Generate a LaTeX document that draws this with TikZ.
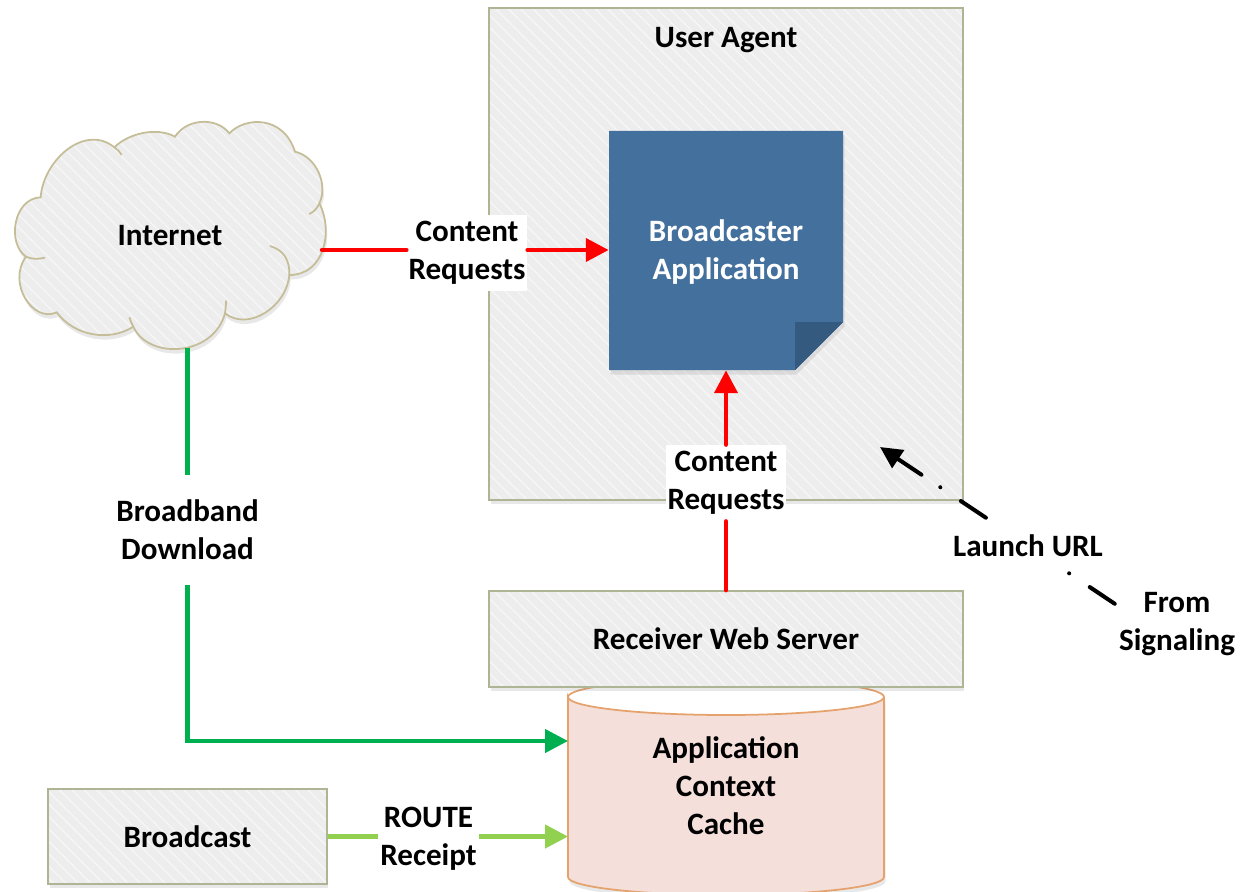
\documentclass[tikz,border=0pt]{standalone}
\usepackage{fontspec}
\setmainfont{Carlito}
\usepackage{tikz}
\usetikzlibrary{arrows.meta}
\usetikzlibrary{patterns.meta}
\usetikzlibrary{positioning}
\usetikzlibrary{shadows}
\definecolor{boxgray}{HTML}{EDEDED}
\definecolor{boxline}{HTML}{AEB594}
\definecolor{cloudline}{HTML}{C4BD97}
\definecolor{appblue}{HTML}{44709D}
\definecolor{appfold}{HTML}{355A80}
\definecolor{cachefill}{HTML}{F4DFDA}
\definecolor{cacheline}{HTML}{E6A26C}
\definecolor{bbgreen}{HTML}{00B050}
\definecolor{routegreen}{HTML}{92D050}
\begin{document}
\begin{tikzpicture}
      [x=0.02cm,y=-0.02cm,
      font=\fontsize{17.7}{21.6}\selectfont\bfseries,
      softshadow/.style={drop shadow={shadow xshift=0.03cm,shadow yshift=-0.09cm,opacity=0.18}},
      hatched/.style={softshadow,preaction={fill=boxgray},pattern={Lines[angle=-45,distance=5pt,line width=0.7pt]},pattern color=white!55!boxgray},
      plainbox/.style={rectangle,draw=boxline,line width=0.9pt,hatched,align=center},
      msgbox/.style={rectangle,fill=white,align=center,inner xsep=1pt,inner ysep=0pt,minimum height=1.52cm},
      textbox/.style={rectangle,align=center,inner sep=0pt},
      cloudedge/.style={draw=cloudline,line width=1pt},
      cacheedge/.style={draw=cacheline,line width=1pt},
      redline/.style={draw=red,line width=2.5pt,line cap=round},
      bbline/.style={draw=bbgreen,line width=2.5pt},
      routeline/.style={draw=routegreen,line width=2.5pt},
      tip/.style={-{Triangle[length=13pt,width=13pt]}},
      launchline/.style={draw=black,line width=2.3pt,line cap=round,dash pattern=on 17.1pt off 14.1pt on 0pt off 12.9pt,-{Triangle[length=12.5pt,width=12pt]}}]
      \useasboundingbox (0,0) rectangle (1244,892);
      % place nodes
      \node[plainbox,minimum width=9.48cm,minimum height=9.84cm] (useragent) at (726,254) {};
      \node[textbox] (agenttitle) [below=0.4cm of useragent.north] {User Agent};
      \fill[appblue,softshadow] (609,131) -- (843,131) -- (843,322) -- (795,370) -- (609,370) -- cycle;
      \fill[appfold] (795,322) -- (843,322) -- (795,370) -- cycle;
      \node[textbox,text=white,minimum width=4.68cm,minimum height=4.72cm] (app) at (726,252) {Broadcaster\\Application};
      % cache drum sits behind the web server
      \path[fill=cachefill,softshadow] (568,697) -- (568,877) arc[start angle=180,end angle=0,x radius=158,y radius=18] -- (884,697) arc[start angle=0,end angle=180,x radius=158,y radius=18] -- cycle;
      \draw[cacheedge] (568,877) -- (568,697) arc[start angle=180,end angle=-180,x radius=158,y radius=18] (884,697) -- (884,877) arc[start angle=0,end angle=180,x radius=158,y radius=18];
      \node[textbox] (cache) at (726,786) {Application\\Context\\Cache};
      \node[plainbox,minimum width=9.48cm,minimum height=1.92cm] (webserver) at (726,639) {Receiver Web Server};
      \node[plainbox,minimum width=5.58cm,minimum height=1.9cm] (broadcast) at (187.5,836.5) {Broadcast};
      % cloud, traced by lobes
      \begin{scope}[shift={(0,110)},scale=1/3]
      \draw[cloudedge,hatched] (122,262)
        .. controls (130,150) and (255,40) .. (343,112)
        .. controls (385,70) and (470,50) .. (525,80)
        .. controls (560,25) and (650,20) .. (688,70)
        .. controls (735,20) and (850,15) .. (885,125)
        .. controls (950,140) and (985,225) .. (958,280)
        .. controls (1000,360) and (975,495) .. (868,495)
        .. controls (860,590) and (745,665) .. (675,610)
        .. controls (640,740) and (445,750) .. (400,650)
        .. controls (330,695) and (225,680) .. (170,607)
        .. controls (100,640) and (20,520) .. (78,440)
        .. controls (20,400) and (40,265) .. (122,262) -- cycle;
      \draw[cloudedge] (343,112) .. controls (352,118) and (360,126) .. (365,135);
      \draw[cloudedge] (958,280) .. controls (952,295) and (942,305) .. (928,312);
      \draw[cloudedge] (868,495) .. controls (870,450) and (850,420) .. (810,408);
      \draw[cloudedge] (675,610) .. controls (677,597) and (678,585) .. (678,572);
      \draw[cloudedge] (400,650) .. controls (395,640) and (391,632) .. (388,622);
      \draw[cloudedge] (78,440) .. controls (95,448) and (115,448) .. (135,443);
      \end{scope}
      \node[textbox] (internet) at (170,236) {Internet};
      \node[msgbox] (inetreq) at (467,253) {Content\\Requests};
      \node[msgbox] (webreq) at (726,483) {Content\\Requests};
      \node[msgbox,minimum height=2.2cm] (download) at (187.5,530) {Broadband\\Download};
      \node[msgbox] (route) at (428.5,839) {ROUTE\\Receipt};
      \node[textbox,inner xsep=0.08cm] (signaling) at (1177,624) {From\\Signaling};
      \coordinate (cloudout) at (322,250);
      \coordinate (cloudfoot) at (187.5,348);
      \coordinate (cachetop) at (568,741);
      \coordinate (cachelow) at (568,836.5);
      \coordinate (agentin) at (880,447);
      % add edges
      \draw[redline] (cloudout) -- (cloudout -| inetreq.west);
      \draw[redline,tip] (cloudout -| inetreq.east) -- (cloudout -| app.west);
      \draw[redline] (webserver) -- (webreq);
      \draw[redline,tip] (webreq) -- (app);
      \draw[bbline] (cloudfoot) -- (download);
      \draw[bbline,tip] (download) |- (cachetop);
      \draw[routeline] (broadcast) -- (broadcast -| route.west);
      \draw[routeline,tip] (broadcast -| route.east) -- (cachelow);
      \draw[launchline] (signaling.162) -- node[rectangle,fill=white,inner sep=0pt,minimum height=0.98cm,pos=0.37] (launch) {Launch URL} (agentin);
    \end{tikzpicture}
\end{document}
